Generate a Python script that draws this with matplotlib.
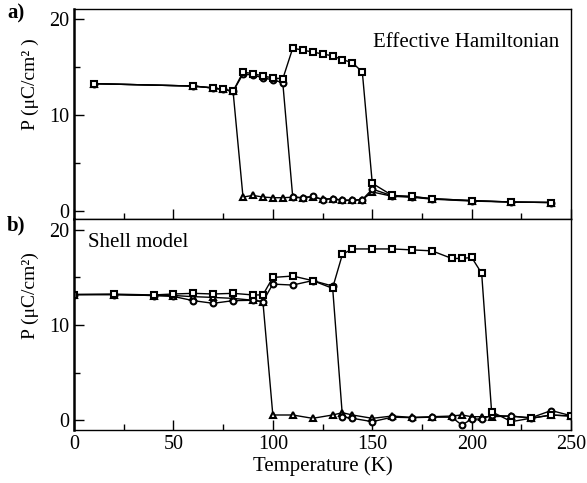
import matplotlib
matplotlib.use('Agg')
import matplotlib.pyplot as plt
from matplotlib.ticker import MultipleLocator

plt.rcParams['font.family'] = ['Liberation Serif', 'DejaVu Serif']

# (a) Effective Hamiltonian
T_a_sq = [10, 60, 70, 75, 80, 85, 90, 95, 100, 105, 110, 115, 120, 125, 130, 135, 140, 145, 150, 160, 170, 180, 200, 220, 240]
P_a_sq = [13.3, 13.05, 12.85, 12.7, 12.5, 14.5, 14.35, 14.1, 13.9, 13.8, 17.0, 16.8, 16.6, 16.4, 16.2, 15.8, 15.5, 14.5, 2.9, 1.64, 1.54, 1.3, 1.1, 0.95, 0.9]
T_a_ci = [10, 60, 70, 75, 80, 85, 90, 95, 100, 105, 110, 115, 120, 125, 130, 135, 140, 145, 150, 160, 170, 180, 200, 220, 240]
P_a_ci = [13.3, 13.05, 12.85, 12.7, 12.5, 14.3, 14.2, 13.9, 13.7, 13.4, 1.47, 1.4, 1.54, 1.2, 1.3, 1.12, 1.12, 1.2, 2.3, 1.6, 1.5, 1.3, 1.1, 0.95, 0.9]
T_a_tr = [10, 60, 70, 75, 80, 85, 90, 95, 100, 105, 110, 115, 120, 125, 130, 135, 140, 145, 150, 160, 170, 180, 200, 220, 240]
P_a_tr = [13.3, 13.05, 12.85, 12.7, 12.5, 1.47, 1.64, 1.47, 1.4, 1.4, 1.45, 1.4, 1.5, 1.25, 1.3, 1.15, 1.15, 1.2, 2.0, 1.55, 1.45, 1.25, 1.05, 0.95, 0.9]

# (b) Shell model
T_b = [0, 20, 40, 50, 60, 70, 80, 90, 95, 100, 110, 120, 130, 135, 140, 150, 160, 170, 180, 190, 195, 200, 205, 210, 220, 230, 240, 250]
P_b_sq = [13.2, 13.25, 13.16, 13.26, 13.33, 13.26, 13.33, 13.16, 13.16, 15.0, 15.15, 14.67, 13.86, 17.44, 18.0, 18.0, 18.0, 17.9, 17.8, 17.0, 17.0, 17.1, 15.44, 0.88, -0.17, 0.2, 0.53, 0.42]
P_b_ci = [13.2, 13.2, 13.1, 13.0, 12.56, 12.28, 12.56, 12.6, 12.46, 14.3, 14.2, 14.67, 14.1, 0.35, 0.18, -0.17, 0.3, 0.25, 0.3, 0.3, -0.53, 0.1, 0.1, 0.5, 0.4, 0.25, 1.0, 0.45]
P_b_tr = [13.2, 13.2, 13.1, 13.1, 12.98, 12.9, 12.8, 12.6, 12.46, 0.53, 0.53, 0.18, 0.53, 0.77, 0.53, 0.18, 0.42, 0.28, 0.35, 0.42, 0.53, 0.35, 0.35, 0.35, 0.42, 0.18, 0.53, 0.42]

x_ticks = [0, 50, 100, 150, 200, 250]
y_ticks = [0, 10, 20]

fig = plt.figure(figsize=(5.87, 4.83), dpi=100)
ax1 = fig.add_axes([0.126, 0.5456, 0.847, 0.435])
ax2 = fig.add_axes([0.126, 0.1097, 0.847, 0.4359])

style = dict(color='black', linewidth=1.0, markersize=4.2, markeredgewidth=1.5,
             markerfacecolor='white', markeredgecolor='black')

ax1.plot(T_a_tr, P_a_tr, marker='^', **style)
ax1.plot(T_a_ci, P_a_ci, marker='o', **style)
ax1.plot(T_a_sq, P_a_sq, marker='s', **style)

ax2.plot(T_b, P_b_tr, marker='^', **style)
ax2.plot(T_b, P_b_ci, marker='o', **style)
ax2.plot(T_b, P_b_sq, marker='s', **style)

for ax, ylim in [(ax1, (-0.87, 21.05)), (ax2, (-1.05, 21.1))]:
    ax.set_xlim(0, 250)
    ax.set_ylim(*ylim)
    ax.set_xticks(x_ticks)
    ax.set_yticks(y_ticks)
    ax.xaxis.set_minor_locator(MultipleLocator(25))
    ax.yaxis.set_minor_locator(MultipleLocator(5))
    ax.tick_params(which='both', direction='in', top=False, right=False, labelsize=14.5, width=1.0)
    ax.tick_params(which='major', length=7)
    ax.tick_params(which='minor', length=4)
    for side in ['top', 'right', 'bottom']:
        ax.spines[side].set_linewidth(1.0)
    ax.spines['left'].set_linewidth(1.8)

ax1.tick_params(axis='x', labelbottom=False)
ax2.set_xlabel('Temperature (K)', fontsize=15, labelpad=2)

ax1.text(150.4, 17.6, 'Effective Hamiltonian', fontsize=15, va='center', ha='left')
ax2.text(7, 18.7, 'Shell model', fontsize=15, va='center', ha='left')

fig.text(30 / 587, 1 - 84 / 483, 'P (\u03bcC/cm\u00b2 )', rotation=90, fontsize=14, ha='center', va='center')
fig.text(30 / 587, 1 - 296 / 483, 'P (\u03bcC/cm\u00b2)', rotation=90, fontsize=14, ha='center', va='center')
fig.text(16 / 587, 1 - 13 / 483, 'a)', fontsize=15, fontweight='bold', ha='center', va='center')
fig.text(16 / 587, 1 - 225 / 483, 'b)', fontsize=15, fontweight='bold', ha='center', va='center')

fig.savefig('out.png', dpi=100, facecolor='white')
